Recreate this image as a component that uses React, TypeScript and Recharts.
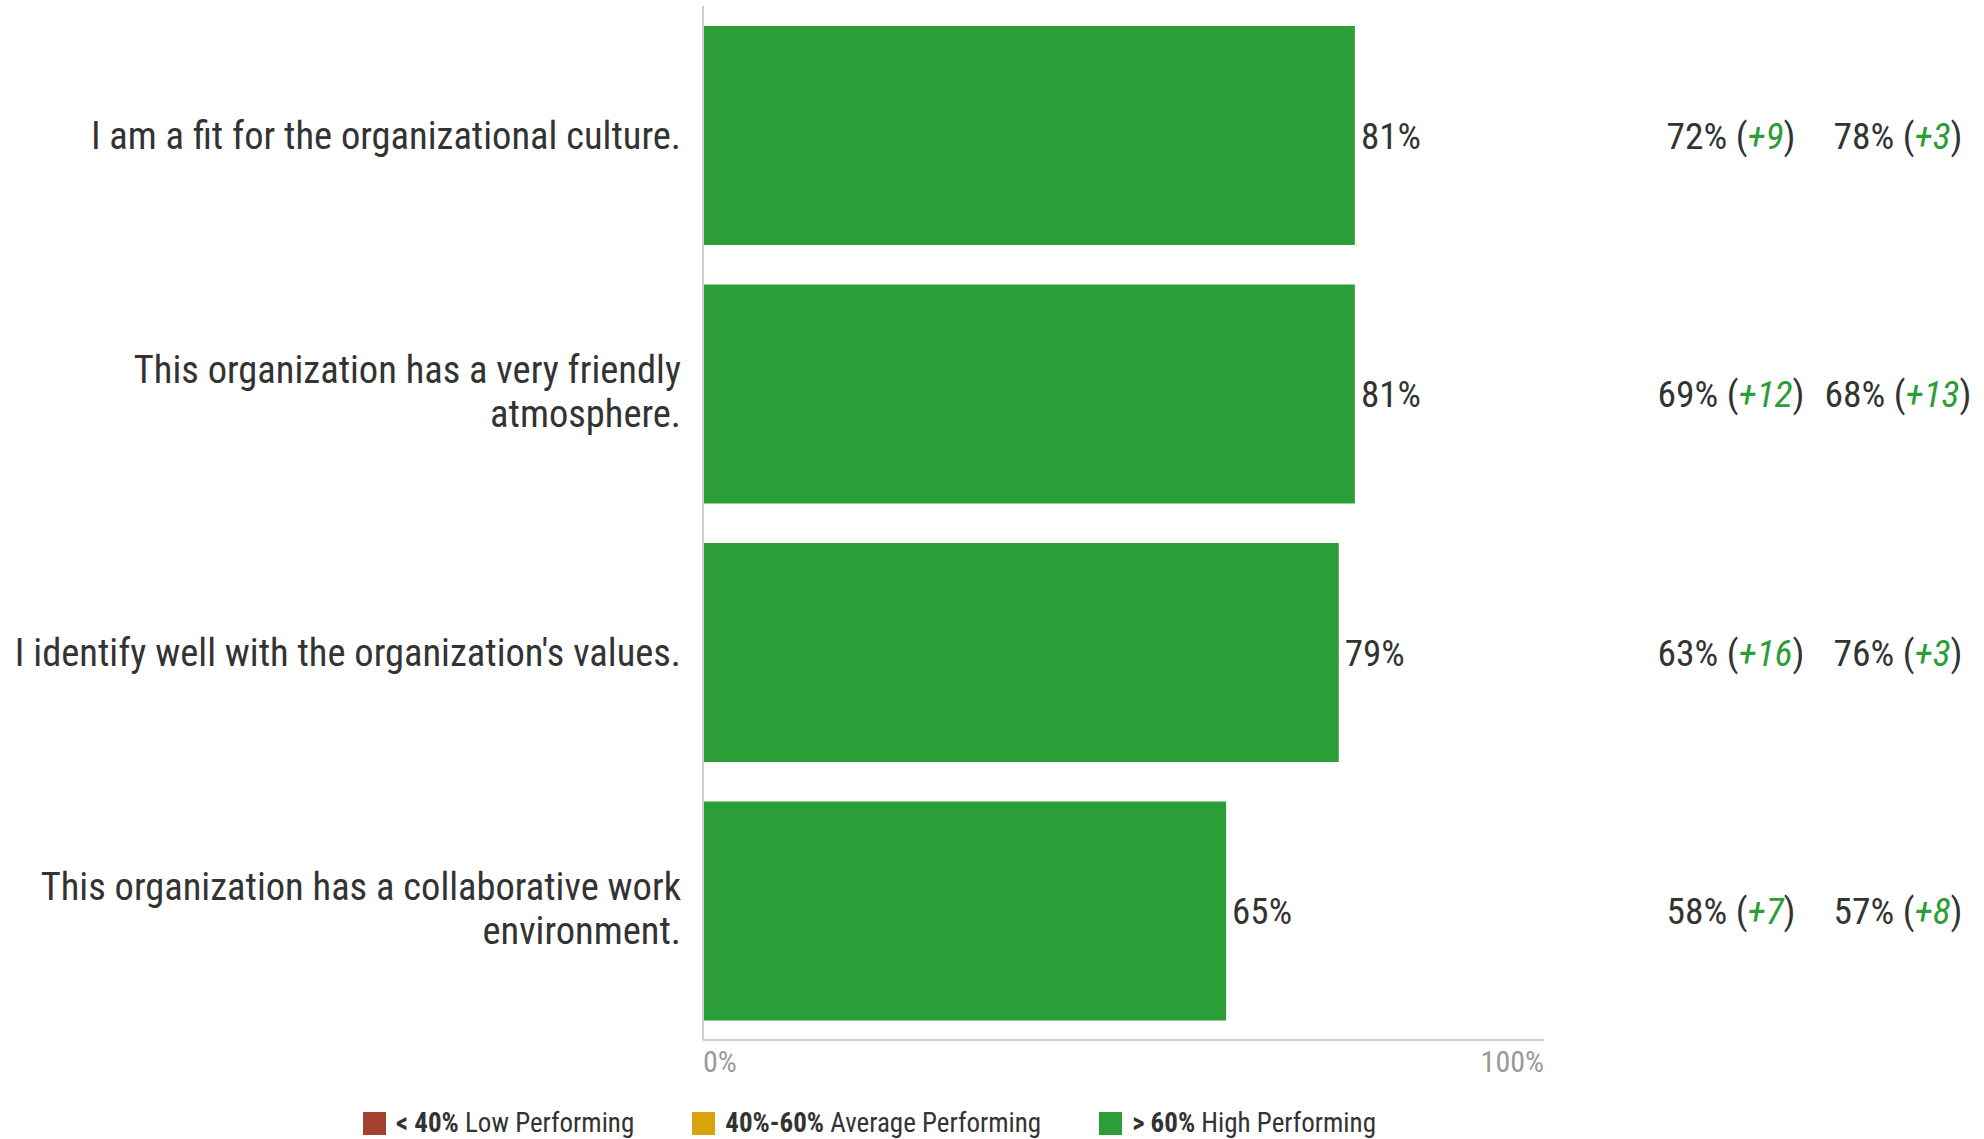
import { BarChart, Bar, XAxis, YAxis, LabelList } from 'recharts'

const categories = [
  'I am a fit for the organizational culture.',
  'This organization has a very friendly\natmosphere.',
  "I identify well with the organization's values.",
  'This organization has a collaborative work\nenvironment.',
]
const scores = [81, 81, 79, 65]
const benchmarkA = [72, 69, 63, 58]
const deltaA = [9, 12, 16, 7]
const benchmarkB = [78, 68, 76, 57]
const deltaB = [3, 13, 3, 8]
const xTicks = [0, 104.5]
const xTickLabels = ['0%', '100%']
const legendItems = [
  { color: '#a3402f', bold: '< 40%', label: 'Low Performing' },
  { color: '#d9a30e', bold: '40%-60%', label: 'Average Performing' },
  { color: '#2c9e38', bold: '> 60%', label: 'High Performing' },
]

const FONT = "'Roboto Condensed', 'Liberation Sans Narrow', 'Arial Narrow', Roboto, sans-serif"
const GREEN = '#2c9e38'
const TEXT = '#333333'

const data = categories.map((name, i) => ({
  name,
  score: scores[i],
  a: benchmarkA[i],
  da: deltaA[i],
  b: benchmarkB[i],
  db: deltaB[i],
}))

function CategoryTick({ x, y, payload }: any) {
  const lines = String(payload.value).split('\n')
  const lh = 44
  const start = y - ((lines.length - 1) * lh) / 2 - (lines.length > 1 ? 3 : 0)
  return (
    <text x={x - 22} y={start} textAnchor="end" fill={TEXT} fontSize={38.5} fontFamily={FONT} dominantBaseline="central">
      {lines.map((l, i) => (
        <tspan key={i} x={x - 22} y={start + i * lh}>{l}</tspan>
      ))}
    </text>
  )
}

function PercentTick({ x, y, index }: any) {
  return (
    <text x={x} y={y + 13} textAnchor={index === 0 ? 'start' : 'end'} fill="#999999" fontSize={30} fontFamily={FONT} dominantBaseline="central">
      {xTickLabels[index]}
    </text>
  )
}

function CompareLabel({ y, height, index }: any) {
  const d = data[index]
  const cy = y + height / 2
  const cols = [
    { cx: 1731, v: d.a, dv: d.da },
    { cx: 1898, v: d.b, dv: d.db },
  ]
  return (
    <g>
      {cols.map((c, i) => (
        <text key={i} x={c.cx} y={cy} textAnchor="middle" dominantBaseline="central" fontSize={37.5} fontFamily={FONT} fill={TEXT}>
          {c.v}% (
          <tspan fill={GREEN} fontStyle="italic">+{c.dv}</tspan>
          )
        </text>
      ))}
    </g>
  )
}

export default function App() {
  return (
    <div style={{ position: 'absolute', left: 0, top: 0, width: 1984, height: 1139, background: '#fff', fontFamily: FONT }}>
      <BarChart
        width={1984}
        height={1100}
        layout="vertical"
        data={data}
        margin={{ top: 6, right: 440, left: 0, bottom: 20 }}
        barCategoryGap={20}
      >
        <XAxis
          type="number"
          domain={[0, 104.5]}
          ticks={xTicks}
          axisLine={{ stroke: '#cccccc', strokeWidth: 2 }}
          tickLine={false}
          tick={<PercentTick />}
          height={40}
          interval={0}
        />
        <YAxis
          type="category"
          dataKey="name"
          width={703}
          axisLine={{ stroke: '#cccccc', strokeWidth: 2 }}
          tickLine={false}
          tickSize={0}
          tickMargin={0}
          tick={<CategoryTick />}
          interval={0}
        />
        <Bar dataKey="score" fill={GREEN} isAnimationActive={false}>
          <LabelList
            dataKey="score"
            position="right"
            offset={6}
            formatter={(v: any) => `${v}%`}
            style={{ fontSize: 37, fontFamily: FONT, fill: TEXT }}
          />
          <LabelList dataKey="a" content={<CompareLabel />} />
        </Bar>
      </BarChart>
      <div style={{ position: 'absolute', left: 363, top: 1107, display: 'flex', alignItems: 'center', gap: 58, fontSize: 27, color: TEXT }}>
        {legendItems.map((it) => (
          <div key={it.label} style={{ display: 'flex', alignItems: 'center' }}>
            <span style={{ display: 'inline-block', width: 23, height: 23, background: it.color, marginRight: 10 }} />
            <span><b>{it.bold}</b> {it.label}</span>
          </div>
        ))}
      </div>
    </div>
  )
}
